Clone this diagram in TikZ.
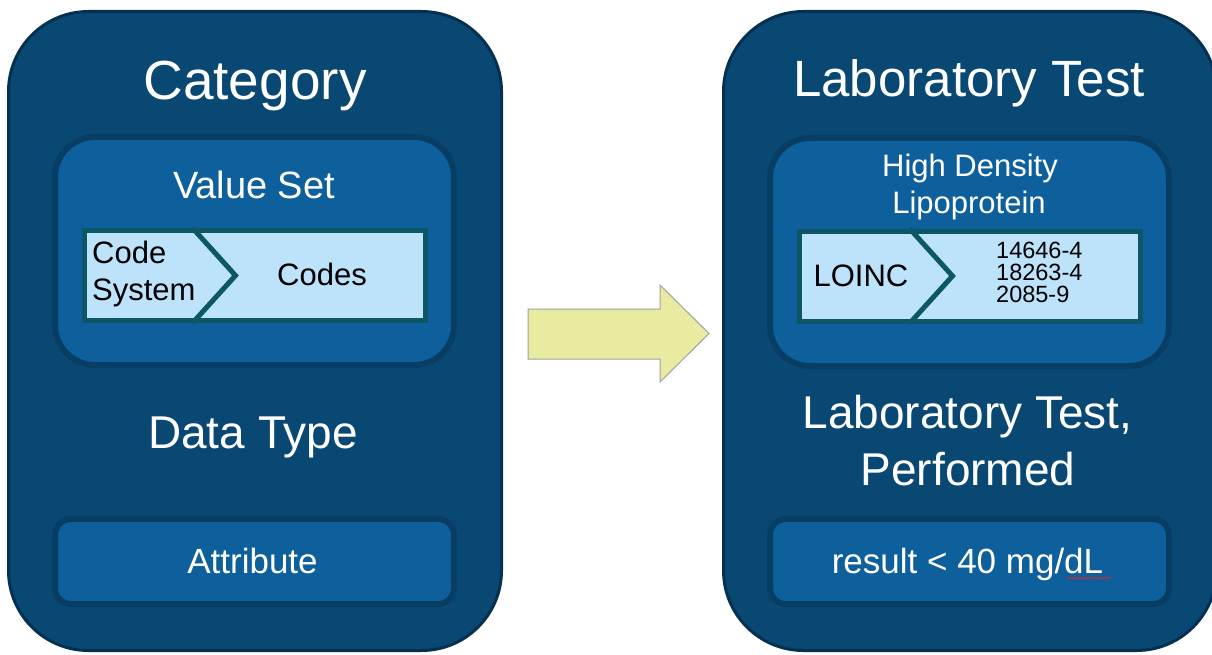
\documentclass[tikz,border=0pt]{standalone}
\usepackage{fontspec}
\setmainfont{Liberation Sans}
\usetikzlibrary{decorations.pathmorphing}
\definecolor{outerfill}{RGB}{9,72,115}
\definecolor{outerline}{RGB}{5,48,80}
\definecolor{innerfill}{RGB}{14,96,156}
\definecolor{innerline}{RGB}{8,62,100}
\definecolor{barfill}{RGB}{188,227,250}
\definecolor{barline}{RGB}{12,86,102}
\definecolor{arrowfill}{RGB}{232,235,160}
\definecolor{arrowline}{RGB}{160,160,160}
\definecolor{squig}{RGB}{220,40,40}
\begin{document}
\begin{tikzpicture}[x=1pt,y=-1pt,
 outerbox/.style={draw=outerline, fill=outerfill, line width=3pt, rounded corners=80pt, minimum width=493pt, minimum height=639pt, inner sep=0pt},
 setbox/.style={draw=innerline, fill=innerfill, line width=6pt, rounded corners=40pt, minimum width=399pt, minimum height=228pt, inner sep=0pt},
 attrbox/.style={draw=innerline, fill=innerfill, line width=6pt, rounded corners=16pt, minimum width=399pt, minimum height=85pt, inner sep=0pt},
 barbox/.style={draw=barline, fill=barfill, line width=5pt, minimum width=341pt, minimum height=90pt, inner sep=0pt},
 chev/.style={draw=barline, line width=5pt, line join=miter},
 wtxt/.style={text=white, inner sep=0pt, anchor=base},
 btxt/.style={text=black, inner sep=0pt, anchor=base},
 fsA/.style={font=\fontsize{55}{60}\selectfont},
 fsT/.style={font=\fontsize{51}{60}\selectfont},
 fsB/.style={font=\fontsize{46}{52}\selectfont},
 fsC/.style={font=\fontsize{38}{44}\selectfont},
 fsD/.style={font=\fontsize{35}{40}\selectfont},
 fsE/.style={font=\fontsize{31}{36}\selectfont},
 fsF/.style={font=\fontsize{23.5}{26}\selectfont},
]
\useasboundingbox (0,0) rectangle (1212,655);
\fill[white] (0,0) rectangle (1212,655);

% outer boxes
\node[outerbox] (lout) at (255,331) {};
\node[outerbox] (rout) at (970,331) {};

% value set boxes
\node[setbox] (lset) at (254.5,251) {};
\node[setbox] (rset) at (969.5,252) {};

% bottom boxes
\node[attrbox] (lattr) at (254.5,561.5) {};
\node[attrbox] (rattr) at (969.5,561.5) {};

% bars
\node[barbox] (lbar) at (255,275.5) {};
\node[barbox] (rbar) at (970,276) {};
\draw[chev] ([xshift=110.5pt]lbar.north west) -- ([xshift=153.5pt]lbar.west) -- ([xshift=110.5pt]lbar.south west);
\draw[chev] ([xshift=112.5pt]rbar.north west) -- ([xshift=155.5pt]rbar.west) -- ([xshift=112.5pt]rbar.south west);

% arrow
\draw[fill=arrowfill, draw=arrowline, line width=1pt] (528,309) -- (660,309) -- (660,285) -- (709,333.5) -- (660,382) -- (660,359) -- (528,359) -- cycle;

% left texts
\node[wtxt,fsA] (cat) at (255,100) {Category};
\node[wtxt,fsC] (vset) at (254,199) {Value Set};
\node[btxt,fsE,anchor=base west] (code1) at (92,263) {Code};
\node[btxt,fsE,anchor=base west] (code2) at (92,300) {System};
\node[btxt,fsE] (codes) at (322,285) {Codes};
\node[wtxt,fsB] (dtype) at (253,448) {Data Type};
\node[wtxt,fsD] (attr) at (252.5,573) {Attribute};

% right texts
\node[wtxt,fsT] (lab) at (969,97) {Laboratory Test};
\node[wtxt,fsE] (hdl1) at (970,177) {High Density};
\node[wtxt,fsE] (hdl2) at (969,213) {Lipoprotein};
\node[btxt,fsE] (loinc) at (861,286) {LOINC};
\node[btxt,fsF,anchor=base west] (c1) at (996,258) {14646-4};
\node[btxt,fsF,anchor=base west] (c2) at (996,280) {18263-4};
\node[btxt,fsF,anchor=base west] (c3) at (996,302) {2085-9};
\node[wtxt,fsB] (ltp1) at (967.5,428) {Laboratory Test,};
\node[wtxt,fsB] (ltp2) at (968,485) {Performed};
\node[wtxt,fsD] (res) at (967.5,573) {result < 40 mg/dL};
\draw[squig, line width=0.7pt, decorate, decoration={snake, amplitude=0.8pt, segment length=3pt}] (1067,578) -- (1111,578);
\end{tikzpicture}
\end{document}
